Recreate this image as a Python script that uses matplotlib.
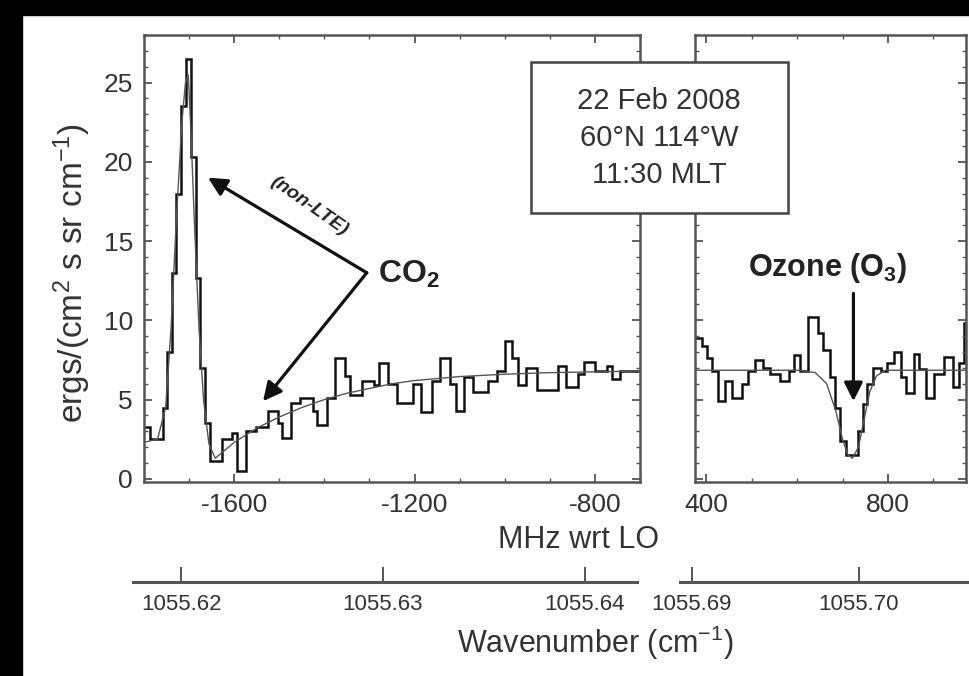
import numpy as np
import matplotlib
matplotlib.use("Agg")
from matplotlib import pyplot as plt
from matplotlib.patches import Rectangle
from matplotlib.ticker import MultipleLocator

plt.rcParams['font.family'] = ['Liberation Sans', 'DejaVu Sans']
plt.rcParams['mathtext.fontset'] = 'custom'
plt.rcParams['mathtext.rm'] = 'Liberation Sans'
plt.rcParams['mathtext.it'] = 'Liberation Sans:italic'
plt.rcParams['mathtext.bf'] = 'Liberation Sans:bold'
plt.rcParams['axes.unicode_minus'] = False

# measured spectrum, CO2 side (MHz wrt LO): step edges and channel values
co2_edges = [-1800, -1787, -1758, -1749, -1738, -1729, -1718, -1707, -1696, -1685,
             -1676, -1665, -1654, -1627, -1605, -1594, -1574, -1552, -1525, -1503,
             -1494, -1474, -1454, -1425, -1416, -1394, -1377, -1354, -1343, -1317,
             -1290, -1279, -1259, -1239, -1204, -1186, -1161, -1144, -1122, -1108,
             -1091, -1071, -1037, -1017, -1000, -984, -971, -953, -929, -882,
             -864, -838, -825, -800, -774, -763, -745, -700]
co2_vals = [3.3, 2.5, 4.5, 8.0, 13.0, 18.0, 23.5, 26.5, 20.3, 12.7,
            7.0, 3.5, 1.1, 2.5, 2.9, 0.5, 3.0, 3.3, 4.3, 3.5,
            2.6, 4.8, 5.1, 4.3, 3.4, 5.1, 7.6, 6.5, 5.3, 6.2,
            5.9, 7.3, 6.0, 4.8, 6.0, 4.2, 6.2, 7.6, 6.0, 4.3,
            6.4, 5.5, 6.2, 6.8, 8.7, 7.6, 5.9, 7.0, 5.6, 7.1,
            5.8, 6.6, 7.4, 6.8, 7.1, 6.3, 6.8]

# model fit, CO2 side
co2_model_x = [-1800, -1770, -1752, -1740, -1728, -1716, -1708, -1702, -1696, -1688,
               -1678, -1668, -1656, -1642, -1600, -1550, -1500, -1450, -1400, -1350,
               -1300, -1250, -1200, -1100, -1000, -900, -800, -700]
co2_model_y = [2.3, 2.5, 4.5, 9.5, 16.5, 22.5, 25.0, 25.5, 22.0, 16.0,
               9.5, 5.0, 2.2, 1.3, 2.3, 3.2, 3.9, 4.5, 5.0, 5.4,
               5.7, 6.0, 6.2, 6.45, 6.6, 6.7, 6.75, 6.8]

# measured spectrum, ozone side
o3_edges = [375, 390, 402, 413, 426, 441, 457, 479, 492, 508, 525, 541, 563, 581,
            592, 607, 625, 647, 658, 673, 684, 695, 707, 733, 744, 755, 768, 784,
            799, 813, 828, 839, 857, 868, 883, 901, 923, 943, 956, 967, 980]
o3_vals = [8.9, 8.4, 7.6, 6.8, 4.9, 6.2, 5.1, 6.0, 6.8, 7.5, 7.0, 6.6, 6.2,
           6.8, 7.8, 6.8, 10.2, 9.2, 8.1, 6.4, 4.5, 2.4, 1.5, 3.0, 4.7, 6.0,
           7.0, 6.8, 7.3, 8.0, 6.4, 5.4, 7.9, 6.9, 5.1, 6.6, 7.7, 5.8, 7.3, 9.8]

o3_model_x = [375, 600, 640, 665, 685, 700, 712, 722, 735, 748, 760, 775, 795, 975]
o3_model_y = [6.85, 6.85, 6.7, 6.0, 4.3, 2.5, 1.5, 1.3, 2.0, 3.8, 5.5, 6.5, 6.85, 6.85]

# wavenumber scale
wn_left_ticks = [1055.62, 1055.63, 1055.64]
wn_right_ticks = [1055.69, 1055.70]

W, H = 969, 676
fig = plt.figure(figsize=(W / 100, H / 100), dpi=100)


def box(x0, x1, y0, y1):
    return [x0 / W, 1 - y1 / H, (x1 - x0) / W, (y1 - y0) / H]


frame_col = '#555555'
text_col = '#333333'

ax1 = fig.add_axes(box(144, 640, 35, 482))
ax2 = fig.add_axes(box(695, 966, 35, 482))

for ax in (ax1, ax2):
    ax.set_ylim(-0.2, 28.0)
    ax.yaxis.set_major_locator(MultipleLocator(5))
    ax.yaxis.set_minor_locator(MultipleLocator(1))
    ax.xaxis.set_major_locator(MultipleLocator(400))
    ax.xaxis.set_minor_locator(MultipleLocator(100))
    ax.tick_params(which='both', direction='in', top=True, right=True,
                   color=frame_col, labelsize=19, labelcolor=text_col, pad=8)
    ax.tick_params(which='major', length=6, width=1.3)
    ax.tick_params(which='minor', length=3, width=1.0)
    for s in ax.spines.values():
        s.set_color(frame_col)
        s.set_linewidth(1.8)

ax1.set_xlim(-1800, -700)
ax2.set_xlim(375, 972)
ax2.tick_params(labelleft=False)

ax1.stairs(co2_vals, co2_edges, color='#111111', lw=1.8, baseline=None)
ax1.plot(co2_model_x, co2_model_y, color='#555555', lw=1.0)
ax2.stairs(o3_vals, o3_edges, color='#111111', lw=1.8, baseline=None)
ax2.plot(o3_model_x, o3_model_y, color='#555555', lw=1.0)

# CO2 annotation
arrow_kw = dict(arrowstyle='-|>', color='#111111', lw=2.3, mutation_scale=28,
                shrinkA=0, shrinkB=0)
ax1.annotate('', xy=(-1658, 19.0), xytext=(-1306, 13.0), arrowprops=arrow_kw)
ax1.annotate('', xy=(-1536, 4.9), xytext=(-1306, 13.0), arrowprops=arrow_kw)
ax1.text(-1282, 12.9, r'$\mathbf{CO_2}$', fontsize=23, color='#222222',
         va='center', ha='left')
ax1.text(-1434, 17.2, '(non-LTE)', fontsize=14, style='italic', fontweight='bold',
         color='#222222', rotation=-35, ha='center', va='center')

# ozone annotation
ax2.annotate('', xy=(724, 4.9), xytext=(724, 11.7), arrowprops=arrow_kw)
ax2.text(667, 13.3, r'Ozone (O$_\mathbf{3}$)', fontsize=22, fontweight='bold',
         color='#222222', ha='center', va='center')

# date / location box
fig.add_artist(Rectangle((531 / W, 1 - 213 / H), 257 / W, 151 / H,
                         transform=fig.transFigure, facecolor='white',
                         edgecolor='#444444', lw=1.8, zorder=5))
fig.text(659 / W, 1 - 138 / H, '22 Feb 2008\n60°N 114°W\n11:30 MLT',
         fontsize=21, color=text_col, ha='center', va='center',
         linespacing=1.4, zorder=6)

fig.text(72 / W, 1 - 273 / H, r'ergs/(cm$^2$ s sr cm$^{-1}$)', fontsize=24,
         color=text_col, rotation=90, ha='center', va='center')
fig.text(579 / W, 1 - 540 / H, 'MHz wrt LO', fontsize=22, color=text_col,
         ha='center', va='center')

# wavenumber scale below
wax1 = fig.add_axes(box(133, 637, 580, 582))
wax2 = fig.add_axes(box(680, 969, 580, 582))
wax1.set_xlim(1055.6176, 1055.6426)
wax2.set_xlim(1055.6893, 1055.7066)
for wax, ticks in ((wax1, wn_left_ticks), (wax2, wn_right_ticks)):
    wax.set_xticks(ticks)
    wax.set_xticklabels([f'{t:.2f}' for t in ticks])
    wax.set_yticks([])
    for side in ('top', 'left', 'right'):
        wax.spines[side].set_visible(False)
    wax.spines['bottom'].set_color(frame_col)
    wax.spines['bottom'].set_linewidth(2.2)
    wax.tick_params(axis='x', direction='in', length=11, width=1.4, color=frame_col,
                    labelsize=16, labelcolor=text_col, pad=9)
    wax.patch.set_visible(False)

fig.text(595 / W, 1 - 643 / H, r'Wavenumber (cm$^{-1}$)', fontsize=22,
         color=text_col, ha='center', va='center')

# black border of the scanned picture
fig.add_artist(Rectangle((0, 1 - 15 / H), 1, 15 / H, transform=fig.transFigure,
                         color='black', zorder=10))
fig.add_artist(Rectangle((0, 0), 22 / W, 1, transform=fig.transFigure,
                         color='black', zorder=10))

fig.savefig('out.png', dpi=100)
